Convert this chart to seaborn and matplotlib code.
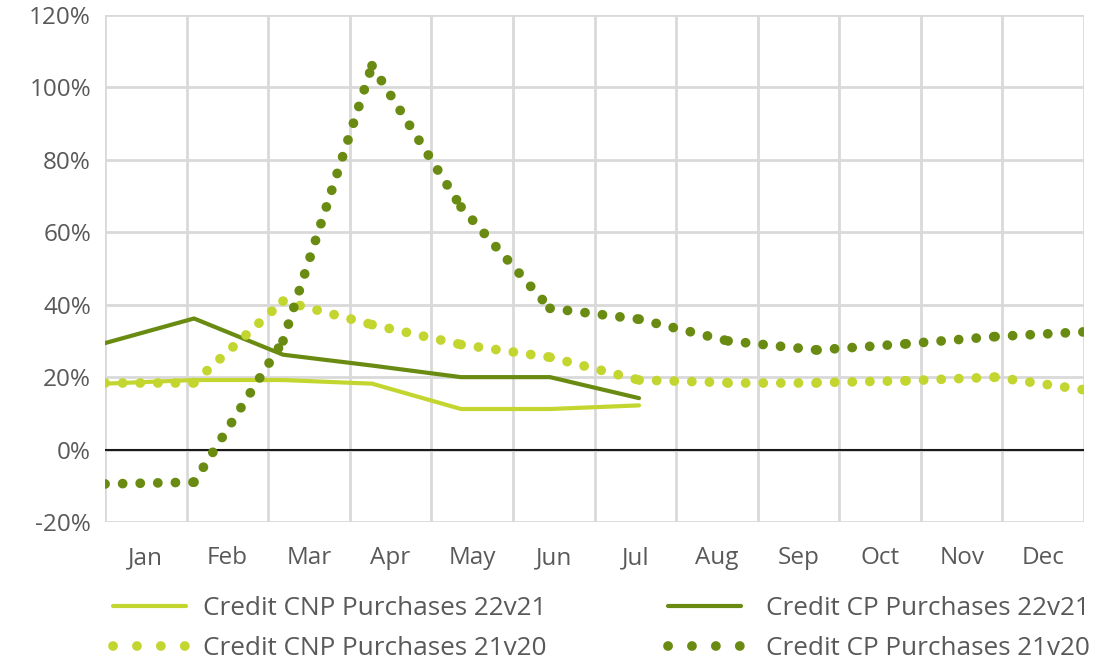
"""
Credit purchases growth: CNP vs CP, 22v21 and 21v20
"""
import numpy as np
import pandas as pd
import matplotlib
matplotlib.use("Agg")
import matplotlib.pyplot as plt
import seaborn as sns
from matplotlib.lines import Line2D
from matplotlib.ticker import FuncFormatter

months = ['Jan', 'Feb', 'Mar', 'Apr', 'May', 'Jun', 'Jul', 'Aug', 'Sep', 'Oct', 'Nov', 'Dec']

cnp_22v21 = [18.2, 19.2, 19.2, 18.2, 11.2, 11.2, 12.2]
cp_22v21 = [29.4, 36.2, 26.2, 23.2, 20.0, 20.0, 14.2]
cnp_21v20 = [18.5, 18.5, 41.0, 34.5, 29.0, 25.5, 19.2, 18.5, 18.5, 19.0, 20.0, 16.5]
cp_21v20 = [-9.5, -9.0, 30.0, 106.0, 67.0, 39.0, 36.0, 30.0, 27.5, 29.2, 31.2, 32.5]

light_green = '#c3d62f'
dark_green = '#698b12'
text_color = '#595959'
grid_color = '#d9d9d9'

sns.set_style("white")
plt.rcParams['font.family'] = ['Open Sans', 'DejaVu Sans']

fig, ax = plt.subplots(figsize=(11.2, 6.6), dpi=100)
fig.subplots_adjust(left=105/1120, right=1084/1120, top=1-15/660, bottom=1-522/660)

# data points spread edge to edge across the 12 month bands
step = 12 / 11

def frame(values):
    return pd.DataFrame({'x': np.arange(len(values)) * step, 'y': values})

def segments(values):
    # one unit per segment so the dot pattern restarts at every point (like Excel)
    rows = []
    for i in range(len(values) - 1):
        rows.append({'x': i * step, 'y': values[i], 'seg': i})
        rows.append({'x': (i + 1) * step, 'y': values[i + 1], 'seg': i})
    return pd.DataFrame(rows)

dot_style = dict(linewidth=7, linestyle=(0, (0.01, 1.8)), dash_capstyle='round')
legend_dot = dict(linewidth=7, linestyle=(0, (0.01, 2.45)), dash_capstyle='round')

sns.lineplot(data=frame(cnp_22v21), x='x', y='y', ax=ax, color=light_green, linewidth=3)
sns.lineplot(data=frame(cp_22v21), x='x', y='y', ax=ax, color=dark_green, linewidth=3)
sns.lineplot(data=segments(cnp_21v20), x='x', y='y', units='seg', estimator=None,
             ax=ax, color=light_green, **dot_style)
sns.lineplot(data=segments(cp_21v20), x='x', y='y', units='seg', estimator=None,
             ax=ax, color=dark_green, **dot_style)

ax.axhline(0, color='#1a1a1a', linewidth=1.5, zorder=1)

ax.set_xlim(0, 12)
ax.set_ylim(-20, 120)
ax.set_yticks(range(-20, 121, 20))
ax.yaxis.set_major_formatter(FuncFormatter(lambda v, p: f'{v:.0f}%'))
ax.set_xticks(np.arange(12) + 0.5)
ax.set_xticklabels(months)
ax.set_xticks(np.arange(13), minor=True)
ax.grid(which='minor', axis='x', color=grid_color, linewidth=2)
ax.grid(which='major', axis='y', color=grid_color, linewidth=2)
ax.set_axisbelow(True)
ax.tick_params(axis='both', which='both', length=0, labelsize=17.5, colors=text_color)
ax.tick_params(axis='x', pad=17.5)
ax.tick_params(axis='y', pad=10)
ax.set_xlabel('')
ax.set_ylabel('')
for s in ax.spines.values():
    s.set_visible(False)

leg_kw = dict(loc='center left', frameon=False, fontsize=18.8, labelcolor=text_color,
              handlelength=2.8, labelspacing=0.55, borderpad=0, borderaxespad=0)
leg1 = fig.legend([Line2D([], [], color=light_green, linewidth=3),
                   Line2D([], [], color=light_green, **legend_dot)],
                  ['Credit CNP Purchases 22v21', 'Credit CNP Purchases 21v20'],
                  bbox_to_anchor=(113/1120, 1-628.5/660), handletextpad=0.65, **leg_kw)
leg2 = fig.legend([Line2D([], [], color=dark_green, linewidth=3),
                   Line2D([], [], color=dark_green, **legend_dot)],
                  ['Credit CP Purchases 22v21', 'Credit CP Purchases 21v20'],
                  bbox_to_anchor=(668/1120, 1-628.5/660), handletextpad=0.95, **leg_kw)

plt.savefig('out.png', dpi=100)
